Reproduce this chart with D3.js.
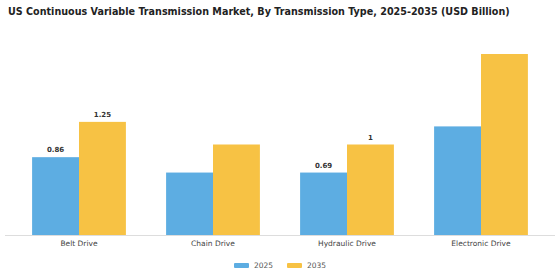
<!DOCTYPE html>
<html>
<head>
  <meta charset="utf-8">
  <script src="https://d3js.org/d3.v7.min.js"></script>
  <style>
    body { margin: 0; background: #fff; font-family: "DejaVu Sans", sans-serif; }
  </style>
</head>
<body>
<div id="chart"></div>
<script>
// data
var categories = ["Belt Drive", "Chain Drive", "Hydraulic Drive", "Electronic Drive"];
var seriesNames = ["2025", "2035"];
var values2025 = [0.86, 0.69, 0.69, 1.2];
var values2035 = [1.25, 1.0, 1.0, 2.0];
// value labels shown only on some bars
var labels2025 = ["0.86", null, "0.69", null];
var labels2035 = ["1.25", null, "1", null];
var colors = ["#5DADE2", "#F7C244"];

var W = 560, H = 280;
var baseY = 235, topY = 54;

var svg = d3.select("#chart").append("svg")
    .attr("width", W)
    .attr("height", H);

// title
svg.append("text")
    .attr("x", 8)
    .attr("y", 15)
    .style("font-size", "9.6px")
    .style("font-weight", "bold")
    .style("fill", "#222")
    .text("US Continuous Variable Transmission Market, By Transmission Type, 2025-2035 (USD Billion)");

var x0 = d3.scaleBand()
    .domain(categories)
    .range([12, 548])
    .paddingInner(0.3)
    .paddingOuter(0.15);

var x1 = d3.scaleBand()
    .domain(seriesNames)
    .range([0, x0.bandwidth()]);

var y = d3.scaleLinear()
    .domain([0, 2.0])
    .range([baseY, topY]);

var rows = categories.map(function(c, i) {
  return {
    cat: c,
    items: [
      { s: "2025", v: values2025[i], lab: labels2025[i] },
      { s: "2035", v: values2035[i], lab: labels2035[i] }
    ]
  };
});

var groups = svg.selectAll(".group")
    .data(rows)
    .enter().append("g")
    .attr("class", "group")
    .attr("transform", function(d) { return "translate(" + x0(d.cat) + ",0)"; });

groups.selectAll("rect")
    .data(function(d) { return d.items; })
    .enter().append("rect")
    .attr("x", function(d) { return x1(d.s); })
    .attr("y", function(d) { return y(d.v); })
    .attr("width", x1.bandwidth())
    .attr("height", function(d) { return baseY - y(d.v); })
    .attr("fill", function(d, i) { return colors[i]; });

groups.selectAll(".lab")
    .data(function(d) { return d.items.filter(function(e) { return e.lab; }); })
    .enter().append("text")
    .attr("class", "lab")
    .attr("x", function(d) { return x1(d.s) + x1.bandwidth() / 2; })
    .attr("y", function(d) { return y(d.v) - 5; })
    .attr("text-anchor", "middle")
    .style("font-size", "7px")
    .style("font-weight", "bold")
    .style("fill", "#333")
    .text(function(d) { return d.lab; });

// x axis
var xAxis = svg.append("g")
    .attr("transform", "translate(0," + baseY + ")")
    .call(d3.axisBottom(x0).tickSize(0).tickPadding(6));
xAxis.select(".domain").attr("stroke", "#ddd").attr("d", "M5,0.5H555");
xAxis.selectAll("text")
    .style("font-family", "DejaVu Sans, sans-serif")
    .style("font-size", "7.5px")
    .style("fill", "#444");

// legend
var legend = svg.selectAll(".legend")
    .data(seriesNames)
    .enter().append("g")
    .attr("class", "legend")
    .attr("transform", function(d, i) { return "translate(" + (234 + i * 53) + ",263)"; });

legend.append("rect")
    .attr("width", 15)
    .attr("height", 5)
    .attr("rx", 1)
    .attr("fill", function(d, i) { return colors[i]; });

legend.append("text")
    .attr("x", 20)
    .attr("y", 5)
    .style("font-size", "7.5px")
    .style("fill", "#555")
    .text(function(d) { return d; });
</script>
</body>
</html>
